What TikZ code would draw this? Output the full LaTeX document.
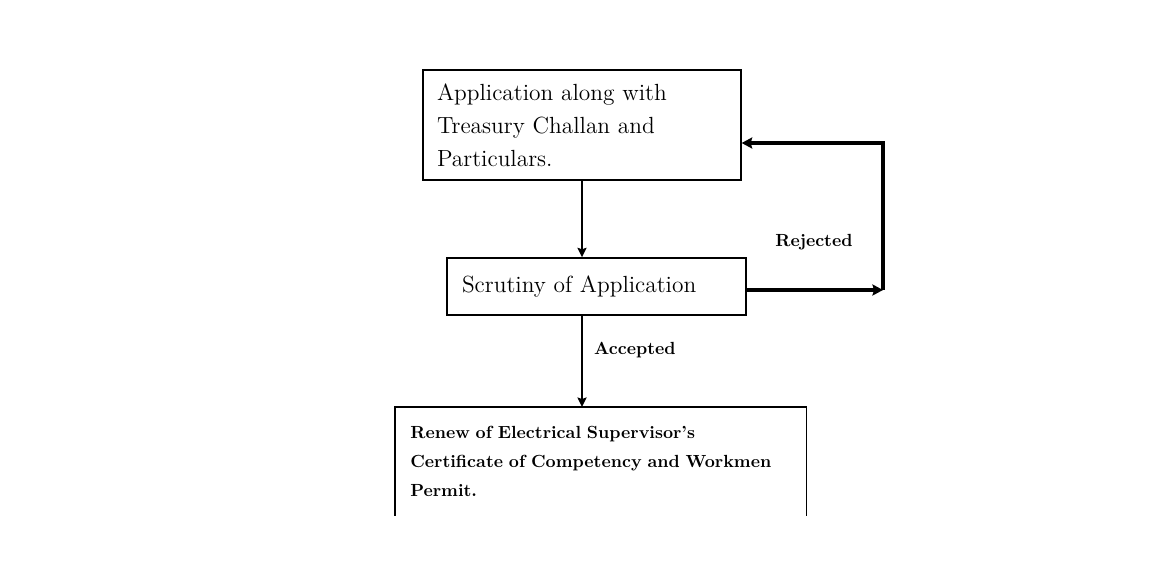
\documentclass[tikz,border=0pt]{standalone}
\usetikzlibrary{arrows.meta}

\begin{document}
\begin{tikzpicture}[x=0.02cm, y=-0.02cm, >={Stealth[length=1.9mm, width=1.8mm, inset=0.3mm]},
	box/.style={draw, line width=0.8pt, align=left, inner xsep=0.28cm, font=\fontsize{13.3}{18.8}\selectfont},
	arrowline/.style={->, line width=1.1pt},
	rejline/.style={->, line width=2pt, >={Stealth[length=2.1mm, width=2.2mm, inset=0.3mm]}},
	lbl/.style={font=\bfseries}]
			\useasboundingbox (0,0) rectangle (1164,576);
			\node[box, text width=5.8cm, minimum height=2.2cm] (app) at (582,125) {Application along with\\ Treasury Challan and\\ Particulars.};
			\node[box, text width=5.38cm, inner xsep=0.3cm, minimum height=1.14cm] (scrutiny) at (596.5,286.5) {Scrutiny of Application};
			\node[anchor=north west, align=left, text width=7.62cm, inner xsep=0.3cm, inner ysep=0.35cm, minimum height=2.16cm, font=\fontsize{10}{16.5}\selectfont\bfseries] (renew) at (395,407) {Renew of Electrical Supervisor's\\ Certificate of Competency and Workmen\\ Permit.};
			\draw[line width=0.8pt] (renew.south west) |- (renew.north east) -- (renew.south east);
			\coordinate (turn) at (883,290);
			\coordinate (ret) at (883,143);
			\draw[arrowline] (app.south) -- (app.south |- scrutiny.north);
			\draw[arrowline] (scrutiny.south -| app.south) -- (renew.north -| app.south) node[lbl, right, pos=0.38, xshift=3pt] {Accepted};
			\draw[rejline] (scrutiny.east |- turn) -- (turn);
			\draw[rejline] (turn) -- (ret) -- (ret -| app.east);
			\node[lbl] (rej) at (814,242) {Rejected};
		\end{tikzpicture}
\end{document}
